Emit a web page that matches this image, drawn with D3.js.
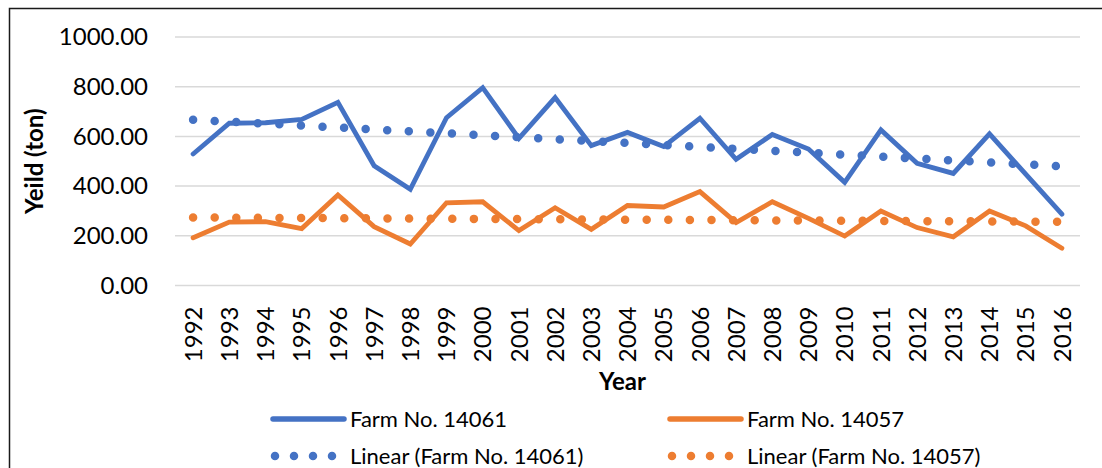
<!DOCTYPE html>
<html>
<head>
<meta charset="utf-8">
<script src="https://cdn.jsdelivr.net/npm/d3@7"></script>
<style>
  html, body { margin: 0; padding: 0; background: #fff; }
  svg { display: block; }
  text { font-family: Lato, "Liberation Sans", sans-serif; fill: #000; }
</style>
</head>
<body>
<svg id="chart" width="1102" height="468"></svg>
<script>
// Annual yield (ton) per farm, 1992–2016
const years = [1992, 1993, 1994, 1995, 1996, 1997, 1998, 1999, 2000, 2001, 2002, 2003,
  2004, 2005, 2006, 2007, 2008, 2009, 2010, 2011, 2012, 2013, 2014, 2015, 2016];
const farm14061 = [529, 653, 655, 668, 737, 482, 387, 675, 796, 592, 756, 563,
  616, 559, 673, 508, 608, 549, 415, 626, 492, 451, 610, 448, 287];
const farm14057 = [192, 255, 257, 229, 364, 237, 167, 333, 337, 221, 313, 226,
  322, 316, 378, 253, 337, 270, 199, 300, 233, 196, 300, 240, 150];
const yTicks = [0, 200, 400, 600, 800, 1000];

const seriesNames = ["Farm No. 14061", "Farm No. 14057"];
const colors = ["#4472C4", "#ED7D31"];

const svg = d3.select("#chart");
const W = 1102, H = 468;
const plot = { left: 175, right: 1080, top: 37, bottom: 285.5 };

// Outer frame (left and top edges)
svg.append("path")
  .attr("d", `M9.5,${H} L9.5,8.5 L${W},8.5`)
  .attr("fill", "none").attr("stroke", "#1a1a1a").attr("stroke-width", 1.5);

const x = d3.scaleBand().domain(years).range([plot.left, plot.right]).paddingInner(0).paddingOuter(0);
const cx = d => x(d) + x.bandwidth() / 2;
const y = d3.scaleLinear().domain([0, 1000]).range([plot.bottom, plot.top]);

// Horizontal gridlines
svg.append("g").selectAll("line").data(yTicks).join("line")
  .attr("x1", plot.left).attr("x2", plot.right)
  .attr("y1", d => y(d)).attr("y2", d => y(d))
  .attr("stroke", "#D9D9D9").attr("stroke-width", 1.5);

// Y axis labels
const yAxis = d3.axisLeft(y).tickValues(yTicks).tickFormat(d3.format(".2f")).tickSize(0).tickPadding(0);
const yg = svg.append("g").attr("transform", `translate(148,0)`).call(yAxis);
yg.select(".domain").remove();
yg.selectAll("text").attr("font-size", 24).attr("font-family", "Lato, sans-serif").attr("fill", "#000");

// X axis labels (rotated)
const xAxis = d3.axisBottom(x).tickSize(0).tickPadding(0);
const xg = svg.append("g").attr("transform", `translate(0,${plot.bottom})`).call(xAxis);
xg.select(".domain").remove();
xg.selectAll("text")
  .attr("font-size", 24).attr("font-family", "Lato, sans-serif").attr("fill", "#000")
  .attr("text-anchor", "end")
  .attr("transform", "rotate(-90)")
  .attr("x", -21).attr("y", 0).attr("dy", "0.36em");

// Axis titles
svg.append("text")
  .attr("transform", `translate(43,${(plot.top + plot.bottom) / 2}) rotate(-90)`)
  .attr("text-anchor", "middle")
  .attr("font-size", 24).attr("font-weight", "bold")
  .text("Yeild (ton)");
svg.append("text")
  .attr("x", (plot.left + plot.right) / 2 - 5).attr("y", 390)
  .attr("text-anchor", "middle")
  .attr("font-size", 24).attr("font-weight", "bold")
  .text("Year");

// Least-squares linear trend over the category index
function linearFit(vals) {
  const n = vals.length;
  const xs = d3.range(n);
  const mx = d3.mean(xs), my = d3.mean(vals);
  let sxy = 0, sxx = 0;
  xs.forEach((xi, i) => { sxy += (xi - mx) * (vals[i] - my); sxx += (xi - mx) * (xi - mx); });
  const slope = sxy / sxx;
  return xs.map(xi => my + slope * (xi - mx));
}

const series = [farm14061, farm14057];
const line = d3.line().x((d, i) => cx(years[i])).y(d => y(d));

// Dotted trend lines
series.forEach((vals, k) => {
  svg.append("path")
    .datum(linearFit(vals))
    .attr("d", line)
    .attr("fill", "none")
    .attr("stroke", colors[k])
    .attr("stroke-width", 8.5)
    .attr("stroke-linecap", "round")
    .attr("stroke-dasharray", "0 21.6");
});

// Data lines
series.forEach((vals, k) => {
  svg.append("path")
    .datum(vals)
    .attr("d", line)
    .attr("fill", "none")
    .attr("stroke", colors[k])
    .attr("stroke-width", 4.8)
    .attr("stroke-linejoin", "miter")
    .attr("stroke-linecap", "round");
});

// Legend
const legendCols = [273, 670];
const legendRows = [419, 456];
const lg = svg.append("g");
seriesNames.forEach((name, k) => {
  const lx = legendCols[k];
  lg.append("line")
    .attr("x1", lx).attr("x2", lx + 71)
    .attr("y1", legendRows[0]).attr("y2", legendRows[0])
    .attr("stroke", colors[k]).attr("stroke-width", 5.5).attr("stroke-linecap", "round");
  lg.append("text")
    .attr("x", lx + 77).attr("y", legendRows[0]).attr("dy", "0.36em")
    .attr("font-size", 22).text(name);
  lg.append("line")
    .attr("x1", lx + 2).attr("x2", lx + 60)
    .attr("y1", legendRows[1]).attr("y2", legendRows[1])
    .attr("stroke", colors[k]).attr("stroke-width", 8.5)
    .attr("stroke-linecap", "round").attr("stroke-dasharray", "0 19");
  lg.append("text")
    .attr("x", lx + 77).attr("y", legendRows[1]).attr("dy", "0.36em")
    .attr("font-size", 22).text(`Linear (${name})`);
});
</script>
</body>
</html>
